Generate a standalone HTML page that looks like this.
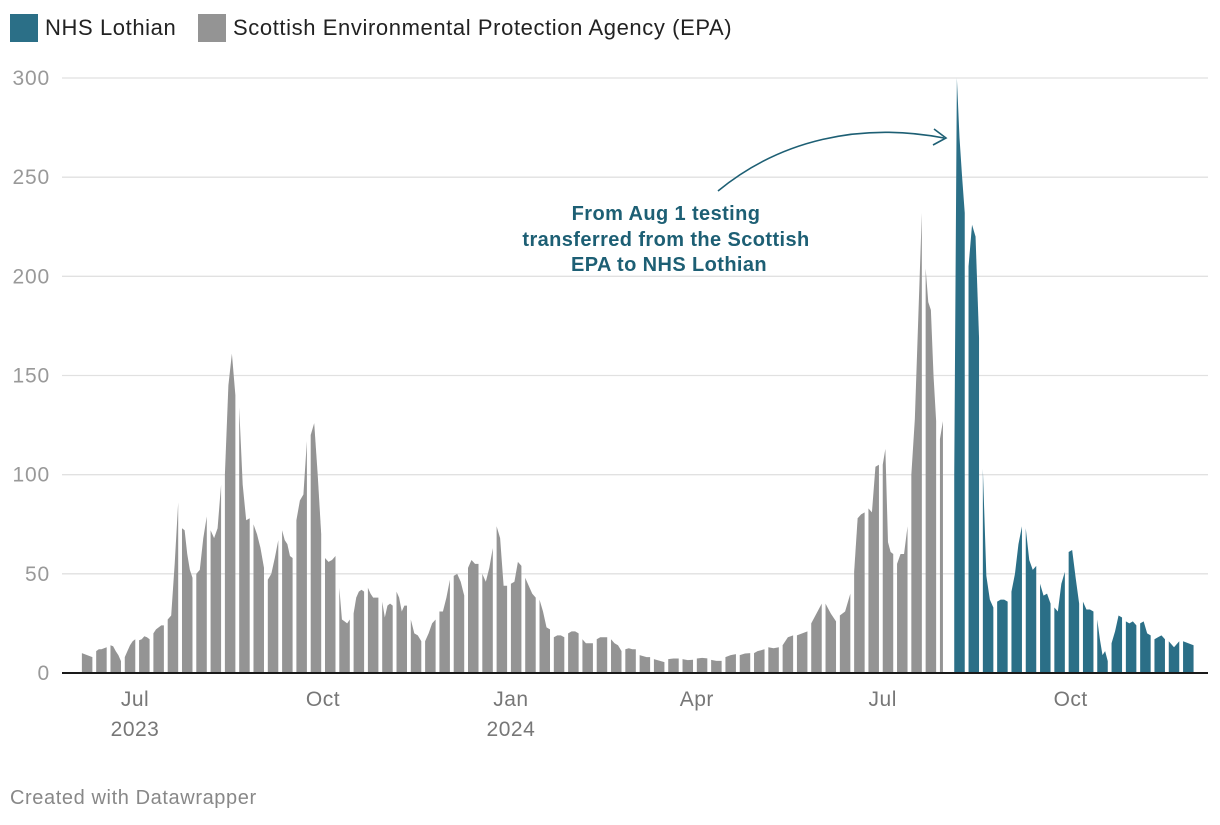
<!DOCTYPE html>
<html><head><meta charset="utf-8"><style>
html,body{margin:0;padding:0;background:#fff;}
body{width:1220px;height:820px;overflow:hidden;font-family:"Liberation Sans",sans-serif;}
</style></head><body>
<svg id="chart" width="1220" height="820" viewBox="0 0 1220 820" xmlns="http://www.w3.org/2000/svg" font-family="Liberation Sans, sans-serif">
  <g>
    <rect x="10" y="14" width="28" height="28" fill="#2b6f87"/>
    <text x="45" y="35" font-size="22" letter-spacing="0.6" fill="#222">NHS Lothian</text>
    <rect x="198" y="14" width="28" height="28" fill="#949494"/>
    <text x="233" y="35" font-size="22" letter-spacing="0.6" fill="#222">Scottish Environmental Protection Agency (EPA)</text>
  </g>
  <g id="grid"></g>
  <g id="yticks"></g>
  <g id="series"></g>
  <line x1="62" y1="673" x2="1208" y2="673" stroke="#1a1a1a" stroke-width="2"/>
  <g id="xticks"></g>
  <g>
    <path d="M718,191 C780,140 860,122 944,138" fill="none" stroke="#1d5f74" stroke-width="1.6"/>
    <path d="M934,129 L946,138 L933,145" fill="none" stroke="#1d5f74" stroke-width="1.6"/>
    <text font-size="20" letter-spacing="0.4" font-weight="bold" fill="#1d5f74" text-anchor="middle">
      <tspan x="669" y="220">From Aug 1 testing</tspan>
      <tspan x="669" y="246">transferred from the Scottish</tspan>
      <tspan x="669" y="271">EPA to NHS Lothian</tspan>
    </text>
  </g>
  <text x="10" y="804" font-size="20" letter-spacing="0.6" fill="#888">Created with Datawrapper</text>
</svg>
<script>
const yTicks = [0, 50, 100, 150, 200, 250, 300];
const xTickLabels = ["Jul", "Oct", "Jan", "Apr", "Jul", "Oct"];
const xTickYears = ["2023", "", "2024", "", "", ""];
const xTickDays = [0, 92, 184, 275, 366, 458]; // days since 2023-07-01
const epaStartWeek = 0;   // week of 2023-06-05
const nhsStartWeek = 61;  // week of 2024-08-05
const epaWeeks = [
[10,9.5,9,8.5,8],[11,12,12,12.5,13],[14,13.5,11,9,6],[8,11,14,16,17],[16.5,17,18.5,18,17],
[20,22,23,24,24],[27,29,55,86],[73,72,60,52,48],[50,52,68,79],[72,68,73,95],
[100,145,161,140],[134,95,77,78],[75,70,63,53],[47,50,58,67],[72,67,65,59,58],
[77,87,90,117],[120,126,100,70],[58,56,57,59],[43,27,26,25,27],[30,38,41,42,41],
[43,40,38,38,38],[36,28,34,35,34],[41,38,31,34,34],[27,20,19,16],[16,20,25,27],
[31,31,38,47],[49,50,46,39],[53,57,55,55],[50,46,53,63],[74,68,44,44],
[45,46,56,54],[48,44,40,38],[37,31,23,22],[18,19,19,18],[20,21,21,20],
[17,15,15,15],[17,18,18,18],[17,15,14,11],[12,12.5,12,12],[9,8.5,8,8],
[7,6.5,6,5.5],[7,7.3,7.3],[7,6.5,6.7],[7.3,7.6,7.4],[6.6,6.1,6.1],
[8,9,9.5],[9,9.8,10],[10,11,11.5,12],[13,12.5,13],[14,18,19],
[19,20,21],[25,30,35],[35,30,26],[29,31,40],[51,78,80,81],
[83,81,104,105],[105,113,66,61,60],[55,60,60,74],[100,128,180,232],[204,187,183,150,127],
[118,127]
];
const nhsWeeks = [
[100,300,270,250,232],[205,226,220,169],[103,49,37,33],[36,37,37,36],[41,50,65,74],
[73,57,52,54],[45,39,40,35],[33,31,45,51],[61,62,48,35],[36,32,32,31],
[27,17,9,11,6],[15,21,29,28],[26,25,26,24],[25,26,20,19],[17,18,19,17],
[16,13,16],[16,15,14]
];

const NS = "http://www.w3.org/2000/svg";
const y = v => 673 - v * (595 / 300);
const x = d => 135 + d * 2.043;
const weekX = k => x(-26 + 7 * k);

const grid = document.getElementById('grid');
const yt = document.getElementById('yticks');
yTicks.forEach(t => {
  if (t > 0) {
    const l = document.createElementNS(NS, 'line');
    
    
    l.setAttribute('x1', 62); l.setAttribute('x2', 1208);
    l.setAttribute('y1', y(t)); l.setAttribute('y2', y(t));
    l.setAttribute('stroke', '#e1e1e1'); l.setAttribute('stroke-width', '1.3');
    grid.appendChild(l);
  }
  const tx = document.createElementNS(NS, 'text');
  
  
  tx.setAttribute('x', 50); tx.setAttribute('y', y(t) + 7);
  tx.setAttribute('text-anchor', 'end'); tx.setAttribute('font-size', '21');
  tx.setAttribute('letter-spacing', '0.8');
  tx.setAttribute('fill', '#999');
  tx.textContent = t;
  yt.appendChild(tx);
});

const xt = document.getElementById('xticks');
xTickLabels.forEach((lab, i) => {
  const tx = document.createElementNS(NS, 'text');
  
  
  tx.setAttribute('x', x(xTickDays[i])); tx.setAttribute('y', 706);
  tx.setAttribute('text-anchor', 'middle'); tx.setAttribute('font-size', '21');
  tx.setAttribute('letter-spacing', '0.5');
  tx.setAttribute('fill', '#777');
  tx.textContent = lab;
  xt.appendChild(tx);
  if (xTickYears[i]) {
    const ty = document.createElementNS(NS, 'text');
    
    
    ty.setAttribute('x', x(xTickDays[i])); ty.setAttribute('y', 736);
    ty.setAttribute('text-anchor', 'middle'); ty.setAttribute('font-size', '21');
    ty.setAttribute('letter-spacing', '0.5');
    ty.setAttribute('fill', '#777');
    ty.textContent = xTickYears[i];
    xt.appendChild(ty);
  }
});

const series = document.getElementById('series');
function drawSeries(weeks, start, color, name) {
  weeks.forEach((vals, i) => {
    const x0 = weekX(start + i);
    const span = vals.length <= 2 ? 3 : 10.5;
    const step = span / (vals.length - 1);
    let d = `M${x0.toFixed(2)},673`;
    vals.forEach((v, j) => { d += ` L${(x0 + j * step).toFixed(2)},${y(v).toFixed(2)}`; });
    d += ` L${(x0 + span).toFixed(2)},673 Z`;
    const p = document.createElementNS(NS, 'path');
    
    
    p.setAttribute('d', d);
    p.setAttribute('fill', color);
    series.appendChild(p);
  });
}
drawSeries(epaWeeks, epaStartWeek, '#949494', 'epa-week-area');
drawSeries(nhsWeeks, nhsStartWeek, '#2b6f87', 'nhs-week-area');
</script>
</body></html>
